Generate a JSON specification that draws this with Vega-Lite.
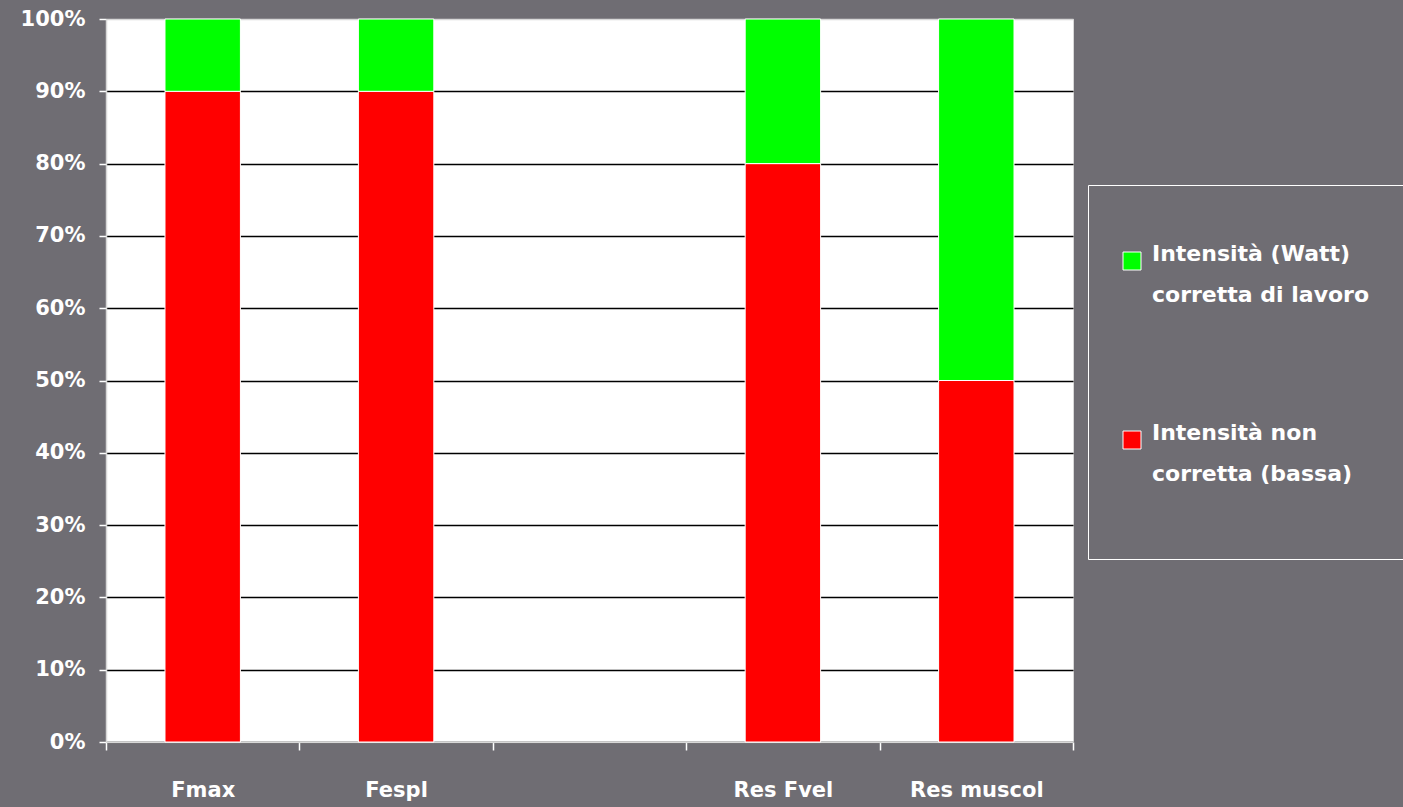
{
  "$schema": "https://vega.github.io/schema/vega-lite/v6.json",
  "autosize": {"type": "none"},
  "padding": {"left": 106, "top": 19, "right": 330, "bottom": 65},
  "width": 967,
  "height": 723,
  "background": "#6f6d73",
  "config": {
    "view": {"fill": "white", "stroke": "#d8d8d8", "strokeWidth": 1},
    "font": "DejaVu Sans",
    "style": {"guide-label": {"lineHeight": 41}}
  },
  "data": {
    "values": [
      {"cat": "Fmax", "serie": "Intensità non|corretta (bassa)", "v": 0.9, "ord": 1},
      {"cat": "Fmax", "serie": "Intensità (Watt)|corretta di lavoro", "v": 0.1, "ord": 2},
      {"cat": "Fespl", "serie": "Intensità non|corretta (bassa)", "v": 0.9, "ord": 1},
      {"cat": "Fespl", "serie": "Intensità (Watt)|corretta di lavoro", "v": 0.1, "ord": 2},
      {"cat": "Res Fvel", "serie": "Intensità non|corretta (bassa)", "v": 0.8, "ord": 1},
      {"cat": "Res Fvel", "serie": "Intensità (Watt)|corretta di lavoro", "v": 0.2, "ord": 2},
      {"cat": "Res muscol", "serie": "Intensità non|corretta (bassa)", "v": 0.5, "ord": 1},
      {"cat": "Res muscol", "serie": "Intensità (Watt)|corretta di lavoro", "v": 0.5, "ord": 2}
    ]
  },
  "mark": {"type": "bar", "stroke": "white", "strokeWidth": 1, "width": {"band": 0.39}},
  "encoding": {
    "x": {
      "field": "cat", "type": "nominal",
      "scale": {"domain": ["Fmax", "Fespl", "_", "Res Fvel", "Res muscol"], "paddingInner": 0, "paddingOuter": 0},
      "axis": {
        "title": null, "labelAngle": 0, "labelColor": "white", "labelFont": "DejaVu Sans", "labelFontWeight": "bold", "labelFontSize": 21,
        "labelPadding": 29, "labelExpr": "datum.value == '_' ? '' : datum.value",
        "tickBand": "extent", "tickColor": "white", "tickSize": 8, "tickWidth": 1.5,
        "domainColor": "#d8d8d8", "domainWidth": 1.5, "grid": false
      }
    },
    "y": {
      "field": "v", "type": "quantitative", "stack": "zero",
      "scale": {"domain": [0, 1], "nice": false},
      "axis": {
        "title": null, "format": ".0%", "values": [0, 0.1, 0.2, 0.3, 0.4, 0.5, 0.6, 0.7, 0.8, 0.9, 1],
        "labelColor": "white", "labelFont": "DejaVu Sans", "labelFontWeight": "bold", "labelFontSize": 21, "labelPadding": 14,
        "tickColor": "white", "tickSize": 7, "tickWidth": 1.5,
        "domainColor": "#d8d8d8", "domainWidth": 1.5,
        "grid": true, "gridWidth": 1.5,
        "gridColor": {"condition": {"test": "datum.value == 1", "value": "#d8d8d8"}, "value": "black"}
      }
    },
    "color": {
      "field": "serie", "type": "nominal",
      "scale": {"domain": ["Intensità (Watt)|corretta di lavoro", "Intensità non|corretta (bassa)"], "range": ["#00ff00", "#ff0000"]},
      "legend": {
        "orient": "none", "legendX": 982, "legendY": 166,
        "title": " ", "titleFontSize": 20, "titlePadding": 12,
        "padding": 33, "strokeColor": "white", "fillColor": null,
        "symbolType": "square", "symbolSize": 324, "symbolStrokeColor": "white", "symbolStrokeWidth": 1, "symbolOpacity": 1,
        "labelExpr": "datum.label == 'Intensità non|corretta (bassa)' ? ['Intensità non', 'corretta (bassa)', ' '] : split(datum.label, '|')",
        "labelColor": "white", "labelFont": "DejaVu Sans", "labelFontWeight": "bold", "labelFontSize": 22, "labelLimit": 400,
        "labelOffset": 9, "labelBaseline": "alphabetic",
        "rowPadding": 116
      }
    },
    "order": {"field": "ord", "type": "quantitative"}
  }
}
